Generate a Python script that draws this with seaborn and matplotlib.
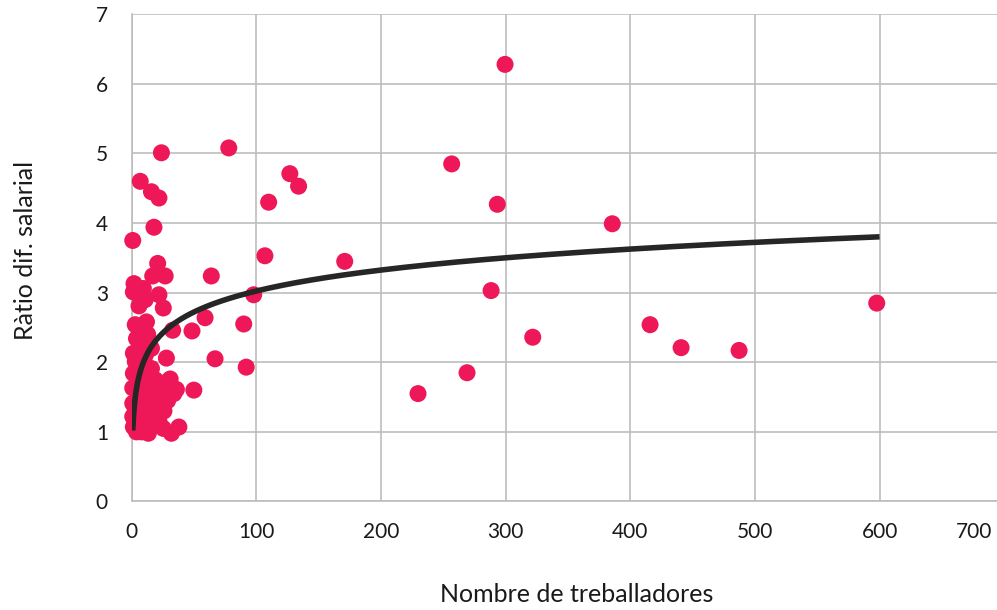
import seaborn as sns
import matplotlib.pyplot as plt
import matplotlib.transforms as mtransforms
import pandas as pd
import numpy as np

# treballadors vs ratio
workers = [299.6, 256.8, 293.4, 385.6, 597.7, 288.4, 321.8, 415.9, 440.8, 487.3, 269.1, 229.8,
           171, 78, 127, 134, 110, 107, 98, 90, 92, 64, 67, 59, 50, 48.5,
           24, 7, 16, 22, 18, 1,
           21, 27, 17, 2, 1.5, 9.5, 22, 11, 6, 25.5,
           3, 12, 33, 4, 13, 9, 1.5, 11, 3, 28, 16,
           1.5, 1, 11, 24, 36, 31, 1, 17.5, 23, 1, 1.5, 20, 25.5, 38, 13.5, 4, 32, 20, 24,
           6, 8, 10, 14, 18, 12, 15, 19, 7, 9, 16, 21, 14, 27, 5, 3, 8, 18, 13, 10,
           30, 34, 26, 22, 29]
ratio = [6.28, 4.85, 4.27, 3.99, 2.85, 3.03, 2.36, 2.54, 2.21, 2.17, 1.85, 1.55,
         3.45, 5.08, 4.71, 4.53, 4.30, 3.53, 2.97, 2.55, 1.93, 3.24, 2.05, 2.64, 1.60, 2.45,
         5.01, 4.60, 4.45, 4.36, 3.94, 3.75,
         3.42, 3.24, 3.24, 3.13, 3.01, 3.06, 2.97, 2.90, 2.81, 2.78,
         2.54, 2.58, 2.46, 2.34, 2.40, 2.30, 2.13, 2.10, 2.01, 2.06, 1.91,
         1.84, 1.63, 1.70, 1.70, 1.61, 1.76, 1.41, 1.51, 1.41, 1.22, 1.07, 1.22, 1.05, 1.07, 0.98, 1.00, 0.98, 1.31, 1.51,
         1.20, 1.50, 1.30, 1.80, 1.10, 1.15, 1.60, 1.75, 1.90, 2.00, 2.20, 1.60, 1.35, 1.45, 1.75, 1.30, 1.00, 1.25, 1.55, 1.85,
         1.70, 1.55, 1.30, 1.15, 1.45]

# logarithmic trend line (y = a ln x + b) as shown in the chart, x from 1 to 600
trend_a = 0.435
trend_b = 1.02
trend_range = (1, 600)

df = pd.DataFrame({"x": workers, "y": ratio})
tx = np.geomspace(trend_range[0], trend_range[1], 300)
trend = pd.DataFrame({"x": tx, "y": trend_a * np.log(tx) + trend_b})

sns.set_style("white")
plt.rcParams["font.family"] = ["Lato", "DejaVu Sans"]

fig = plt.figure(figsize=(9.97, 6.10), dpi=100)
ax = fig.add_axes([0.1319, 0.1779, 0.8754, 0.7987])

sns.scatterplot(data=df, x="x", y="y", ax=ax, color="#EE1757", s=150,
                edgecolor="none", zorder=3, clip_on=False)
sns.lineplot(data=trend, x="x", y="y", ax=ax, color="#262626", lw=4, zorder=4,
             solid_capstyle="butt")

ax.set_xlim(0, 700)
ax.set_ylim(0, 7)
ax.set_xticks(range(0, 701, 100))
ax.set_yticks(range(0, 8))
ax.grid(True, color="#BDBDBD", lw=1.2)
ax.set_axisbelow(True)
for s in ["top", "right"]:
    ax.spines[s].set_visible(False)
for s in ["left", "bottom"]:
    ax.spines[s].set_color("#BDBDBD")
    ax.spines[s].set_linewidth(1.2)
ax.tick_params(axis="both", length=0, labelsize=15, colors="#1a1a1a")
ax.tick_params(axis="x", pad=15)
ax.tick_params(axis="y", pad=17)

last = ax.get_xticklabels()[-1]
last.set_transform(last.get_transform() + mtransforms.ScaledTranslation(-0.3, 0, fig.dpi_scale_trans))

ax.set_xlabel("Nombre de treballadores", fontsize=18, color="#1a1a1a")
ax.set_ylabel("Ràtio dif. salarial", fontsize=18, color="#1a1a1a")
ax.xaxis.set_label_coords(0.5105, -0.168)
ax.yaxis.set_label_coords(-0.108, 0.516)

plt.savefig("out.png", dpi=100)
plt.close()
